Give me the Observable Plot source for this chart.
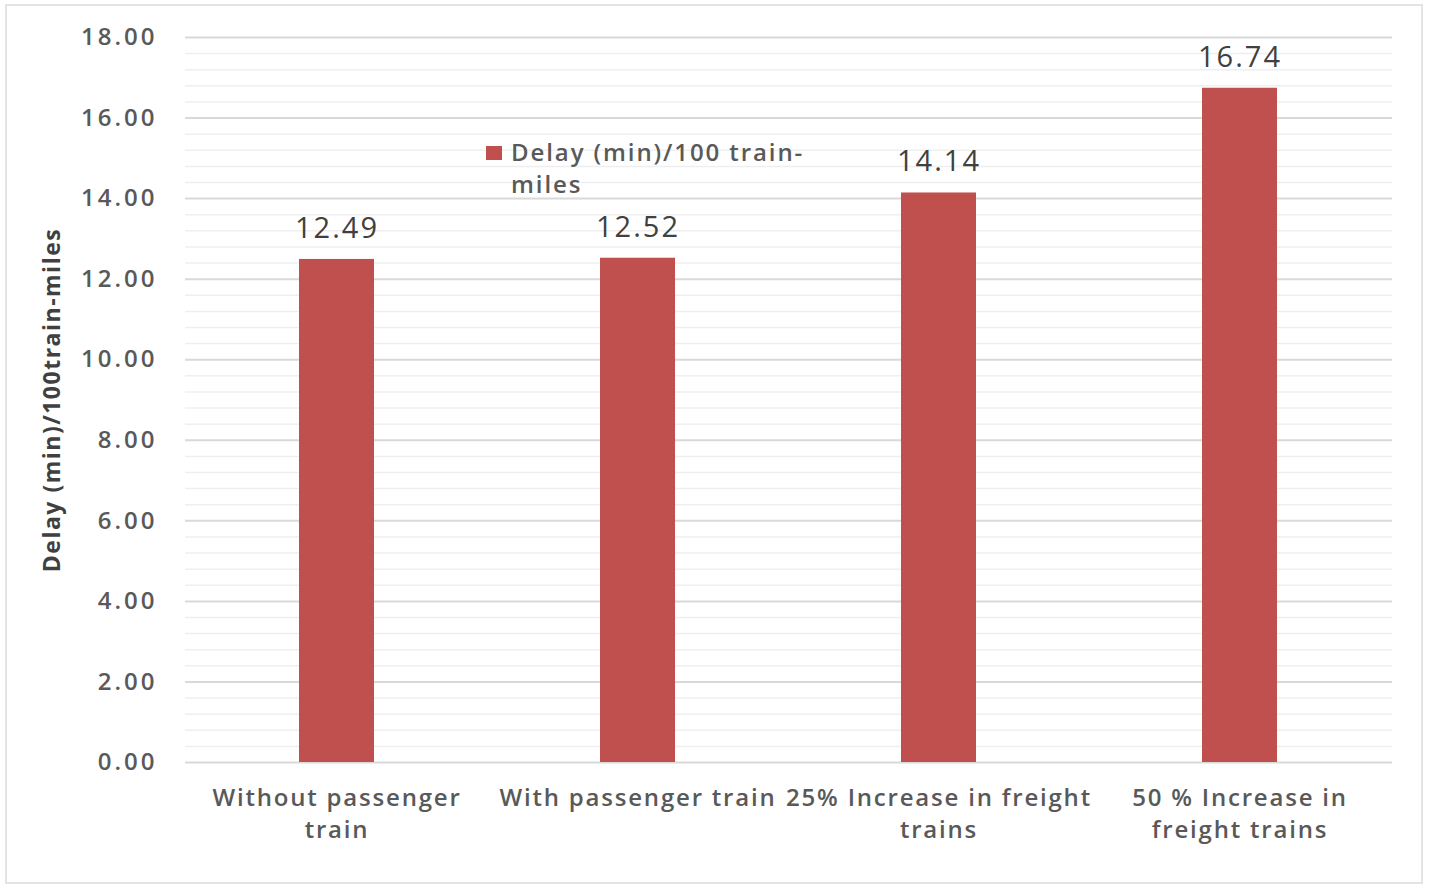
<!DOCTYPE html>
<html>
<head>
<meta charset="utf-8">
<script src="https://cdn.jsdelivr.net/npm/d3@7"></script>
<script src="https://cdn.jsdelivr.net/npm/@observablehq/plot@0.6"></script>
<style>
  html, body { margin: 0; padding: 0; background: #fff; }
  #wrap { position: relative; width: 1429px; height: 893px; }
  #frame { position: absolute; left: 5px; top: 4px; width: 1418px; height: 880px; border: 2px solid #e4e4e4; box-sizing: border-box; pointer-events: none; }
  #legend { position: absolute; left: 486px; top: 136px; font-family: "Open Sans", sans-serif; font-weight: 600; font-size: 24px; color: #595959; line-height: 32px; letter-spacing: 1.9px; }
  #legend .sw { position: absolute; left: 0; top: 10px; width: 16px; height: 14px; background: #c0504d; }
  #legend .tx { margin-left: 25px; }
</style>
</head>
<body>
<div id="wrap">
  <div id="chart"></div>
  <div id="frame"></div>
  <div id="legend"><span class="sw"></span><div class="tx">Delay (min)/100 train-<br>miles</div></div>
</div>
<script>
// Scenarios and the delay each produces
const scenarios = [
  "Without passenger\ntrain",
  "With passenger train",
  "25% Increase in freight\ntrains",
  "50 % Increase in\nfreight trains"
];
const delays = [12.49, 12.52, 14.14, 16.74];
const yTicks = [0, 2, 4, 6, 8, 10, 12, 14, 16, 18];

const data = scenarios.map((s, i) => ({scenario: s, delay: delays[i]}));

// light minor grid between the major ticks (every 0.4)
const minor = d3.range(0, 18.001, 0.4).filter(v => Math.abs(v / 2 - Math.round(v / 2)) > 1e-6);

const chart = Plot.plot({
  width: 1429,
  height: 893,
  marginLeft: 185,
  marginRight: 37,
  marginTop: 37,
  marginBottom: 131,
  style: {fontFamily: "Open Sans, sans-serif", background: "transparent"},
  x: {domain: scenarios, paddingInner: 0.75, paddingOuter: 0.375, label: null},
  y: {domain: [0, 18], label: null},
  marks: [
    Plot.ruleY(minor, {stroke: "#efefef", strokeWidth: 1.5}),
    Plot.ruleY(yTicks, {stroke: "#d9d9d9", strokeWidth: 2}),
    Plot.barY(data, {x: "scenario", y: "delay", fill: "#c0504d"}),
    Plot.text(data, {
      x: "scenario", y: "delay", text: d => d.delay.toFixed(2),
      dy: -31, fontSize: 29, fill: "#404040", className: "vlab"
    }),
    Plot.axisY({
      ticks: yTicks, tickFormat: d3.format(".2f"), tickSize: 0, tickPadding: 28,
      fontSize: 24, fontWeight: 600, fill: "#595959", label: null, className: "ylab"
    }),
    Plot.axisX({
      tickSize: 0, tickPadding: 20, fontSize: 24, fontWeight: 600, fill: "#595959",
      lineHeight: 1.35, label: null, className: "xlab"
    }),
    Plot.text(["Delay (min)/100train-miles"], {
      frameAnchor: "left", textAnchor: "middle", dx: -133, rotate: -90,
      fontSize: 23, fontWeight: 700, fill: "#404040", className: "ytitle"
    })
  ]
});

// wide letter spacing on the various text groups
const spacing = {vlab: "2px", ylab: "3px", xlab: "1.8px", ytitle: "1.5px"};
for (const [cls, ls] of Object.entries(spacing)) {
  chart.querySelectorAll(`g.${cls} text, g[aria-label].${cls} text`).forEach(t => t.style.letterSpacing = ls);
}
document.getElementById("chart").appendChild(chart);
</script>
</body>
</html>
